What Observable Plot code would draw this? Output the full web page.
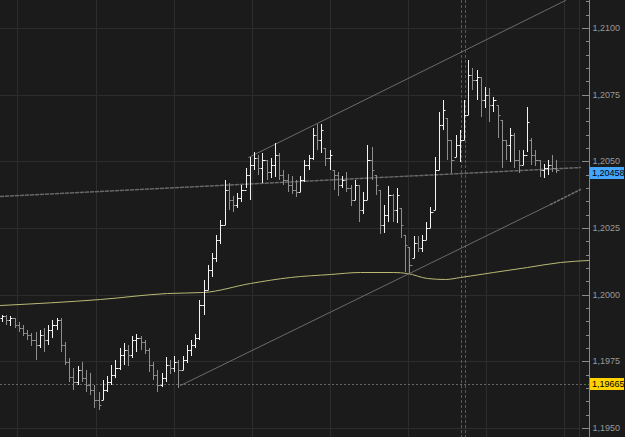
<!DOCTYPE html>
<html><head><meta charset="utf-8">
<script src="https://cdn.jsdelivr.net/npm/d3@7"></script>
<script src="https://cdn.jsdelivr.net/npm/@observablehq/plot@0.6"></script>
<style>
html,body{margin:0;padding:0;background:#1b1b1b;overflow:hidden;}
</style></head><body><div id="chart"></div>
<script>
// OHLC bars (bar index 0..132)
const open = [1.19913,1.19920,1.19905,1.19913,1.19886,1.19875,1.19856,1.19849,1.19830,1.19811,
1.19849,1.19830,1.19868,1.19886,1.19905,1.19811,1.19748,1.19691,1.19673,1.19718,
1.19688,1.19661,1.19643,1.19605,1.19605,1.19643,1.19673,1.19699,1.19725,1.19774,
1.19793,1.19774,1.19830,1.19838,1.19823,1.19793,1.19736,1.19699,1.19661,1.19688,
1.19736,1.19725,1.19748,1.19718,1.19755,1.19793,1.19811,1.19838,1.19961,1.20018,
1.20093,1.20138,1.20205,1.20261,1.20393,1.20355,1.20336,1.20363,1.20393,1.20449,
1.20486,1.20513,1.20475,1.20505,1.20460,1.20486,1.20524,1.20449,1.20430,1.20411,
1.20393,1.20385,1.20430,1.20486,1.20513,1.20599,1.20580,1.20550,1.20513,1.20468,
1.20449,1.20411,1.20430,1.20400,1.20355,1.20411,1.20318,1.20355,1.20505,1.20449,
1.20393,1.20261,1.20299,1.20374,1.20318,1.20325,1.20224,1.20179,1.20138,1.20194,
1.20175,1.20205,1.20250,1.20318,1.20468,1.20636,1.20663,1.20580,1.20516,1.20561,
1.20580,1.20674,1.20824,1.20805,1.20816,1.20730,1.20749,1.20711,1.20711,1.20655,
1.20580,1.20561,1.20599,1.20505,1.20486,1.20524,1.20580,1.20524,1.20505,1.20468,
1.20475,1.20486,1.20475];
const high = [1.19924,1.19924,1.19920,1.19913,1.19898,1.19886,1.19868,1.19856,1.19860,1.19868,
1.19875,1.19886,1.19905,1.19913,1.19913,1.19823,1.19763,1.19725,1.19733,1.19748,
1.19718,1.19706,1.19661,1.19635,1.19680,1.19695,1.19736,1.19755,1.19800,1.19819,
1.19811,1.19845,1.19853,1.19845,1.19830,1.19800,1.19748,1.19718,1.19706,1.19766,
1.19755,1.19770,1.19755,1.19770,1.19811,1.19830,1.19853,1.19980,1.20055,1.20111,
1.20156,1.20224,1.20280,1.20430,1.20419,1.20370,1.20381,1.20411,1.20475,1.20516,
1.20535,1.20524,1.20531,1.20505,1.20513,1.20569,1.20531,1.20468,1.20453,1.20445,
1.20430,1.20445,1.20505,1.20524,1.20625,1.20640,1.20640,1.20550,1.20543,1.20468,
1.20460,1.20445,1.20460,1.20411,1.20430,1.20411,1.20385,1.20561,1.20554,1.20449,
1.20393,1.20336,1.20408,1.20378,1.20400,1.20325,1.20224,1.20179,1.20220,1.20220,
1.20224,1.20273,1.20329,1.20516,1.20685,1.20730,1.20663,1.20580,1.20599,1.20618,
1.20730,1.20880,1.20850,1.20843,1.20816,1.20779,1.20775,1.20741,1.20711,1.20655,
1.20580,1.20625,1.20606,1.20543,1.20543,1.20704,1.20588,1.20543,1.20505,1.20490,
1.20505,1.20524,1.20505];
const low = [1.19898,1.19886,1.19883,1.19875,1.19860,1.19845,1.19830,1.19808,1.19755,1.19800,
1.19785,1.19811,1.19838,1.19868,1.19785,1.19736,1.19673,1.19643,1.19661,1.19673,
1.19635,1.19624,1.19575,1.19568,1.19605,1.19635,1.19661,1.19688,1.19718,1.19736,
1.19733,1.19763,1.19785,1.19793,1.19778,1.19710,1.19680,1.19635,1.19654,1.19673,
1.19703,1.19710,1.19650,1.19718,1.19744,1.19770,1.19800,1.19830,1.19924,1.20018,
1.20066,1.20123,1.20190,1.20261,1.20318,1.20310,1.20325,1.20348,1.20400,1.20355,
1.20468,1.20449,1.20419,1.20430,1.20438,1.20441,1.20430,1.20411,1.20385,1.20378,
1.20366,1.20385,1.20423,1.20468,1.20505,1.20543,1.20531,1.20483,1.20468,1.20393,
1.20370,1.20400,1.20385,1.20333,1.20355,1.20273,1.20303,1.20355,1.20430,1.20374,
1.20228,1.20231,1.20273,1.20273,1.20269,1.20213,1.20085,1.20081,1.20138,1.20160,
1.20160,1.20205,1.20250,1.20318,1.20468,1.20618,1.20505,1.20456,1.20516,1.20498,
1.20580,1.20674,1.20768,1.20730,1.20666,1.20700,1.20648,1.20685,1.20588,1.20475,
1.20505,1.20498,1.20475,1.20456,1.20486,1.20535,1.20486,1.20483,1.20441,1.20438,
1.20449,1.20460,1.20456];
const close = [1.19920,1.19905,1.19913,1.19886,1.19875,1.19856,1.19849,1.19830,1.19811,1.19849,
1.19830,1.19868,1.19886,1.19905,1.19811,1.19748,1.19691,1.19673,1.19718,1.19688,
1.19661,1.19643,1.19605,1.19586,1.19643,1.19673,1.19699,1.19725,1.19774,1.19793,
1.19774,1.19830,1.19838,1.19823,1.19793,1.19736,1.19699,1.19661,1.19688,1.19736,
1.19725,1.19748,1.19718,1.19755,1.19793,1.19811,1.19838,1.19961,1.20018,1.20093,
1.20138,1.20205,1.20261,1.20393,1.20355,1.20336,1.20363,1.20393,1.20449,1.20486,
1.20513,1.20475,1.20505,1.20460,1.20486,1.20524,1.20449,1.20430,1.20411,1.20393,
1.20385,1.20430,1.20486,1.20513,1.20599,1.20580,1.20618,1.20513,1.20524,1.20449,
1.20411,1.20430,1.20400,1.20355,1.20411,1.20318,1.20355,1.20505,1.20468,1.20411,
1.20261,1.20299,1.20374,1.20318,1.20374,1.20261,1.20186,1.20111,1.20194,1.20175,
1.20205,1.20250,1.20310,1.20468,1.20636,1.20693,1.20580,1.20505,1.20561,1.20580,
1.20674,1.20824,1.20805,1.20816,1.20730,1.20749,1.20711,1.20730,1.20674,1.20580,
1.20561,1.20599,1.20505,1.20486,1.20524,1.20648,1.20524,1.20505,1.20468,1.20475,
1.20486,1.20475,1.20468];

// moving average (bar index, value)
const maIndex = [-0.5, 23.3, 39.3, 47.9, 59, 68.6, 78.1, 85.2, 93.1, 96.4, 101.2, 105.5, 109, 116.9, 125, 132.9, 139.5];
const maValue = [1.19961, 1.19984, 1.20006, 1.20010, 1.20044, 1.20066, 1.20078, 1.20085, 1.20085, 1.20081, 1.20063, 1.20059, 1.20066, 1.20085, 1.20104, 1.20123, 1.20130];

// drawn lines (bar index, value)
const upperIdx = [58.6, 134.1], upperVal = [1.20516, 1.21105];
const lowerIdx = [42.4, 130.5], lowerVal = [1.19661, 1.20341];
const lowerExtIdx = [130.5, 137.6], lowerExtVal = [1.20341, 1.20396];
const slantIdx = [-0.5, 137.6], slantVal = [1.20370, 1.20479];
const levelLines = [1.19665];
const markerIdx = [109.3, 110.2];

// axis
const yMajor = [1.1950, 1.1975, 1.2000, 1.2025, 1.2050, 1.2075, 1.2100];
const yMinor = d3.range(1.1945, 1.2110, 0.0005).map(v => +v.toFixed(4));
const gridIdx = [3.6, 22.4, 41.0, 59.5, 78.1, 96.7, 115.2, 133.8];
const frameIdx = 137.4;
const xDomain = [-0.476, 139.76];
const yDomain = [1.194663, 1.21105];
const priceLabels = [{value: 1.20458, text: "1,20458", bg: "#45a6ff"}, {value: 1.19665, text: "1,19665", bg: "#ffd200"}];

const bars = open.map((o, i) => ({i, open: o, high: high[i], low: low[i], close: close[i]}));
const barColor = d => d.close >= d.open ? "#f4f4f4" : "#8e8e8e";
const pts = (xs, ys) => xs.map((x, k) => ({x, y: ys[k]}));
const fmt = d => d.toFixed(4).replace(".", ",");

const chart = Plot.plot({
  width: 625, height: 437,
  marginLeft: 0, marginRight: 36, marginTop: 0, marginBottom: 0,
  style: {background: "#1b1b1b", color: "#9a9a9a", fontFamily: "'Liberation Sans', Arial, sans-serif", fontSize: "9px"},
  x: {domain: xDomain, axis: null, round: true},
  y: {domain: yDomain, axis: null, round: true},
  marks: [
    Plot.ruleX(gridIdx, {stroke: "#2d2d2d"}),
    Plot.ruleY(yMajor, {x1: xDomain[0], x2: frameIdx, stroke: "#2d2d2d"}),
    Plot.ruleX([frameIdx], {stroke: "#2d2d2d"}),
    Plot.ruleX(markerIdx, {stroke: "#5a5a5a", strokeDasharray: "3,2"}),
    Plot.ruleY(levelLines, {x1: xDomain[0], x2: xDomain[1], stroke: "#666", strokeDasharray: "2,2"}),
    Plot.line(pts(slantIdx, slantVal), {x: "x", y: "y", stroke: "#686868", strokeDasharray: "3,2"}),
    Plot.line(pts(maIndex, maValue), {x: "x", y: "y", stroke: "#b9b976", strokeWidth: 1, curve: "monotone-x"}),
    Plot.line(pts(upperIdx, upperVal), {x: "x", y: "y", stroke: "#747474", strokeWidth: 0.9, clip: true}),
    Plot.line(pts(lowerIdx, lowerVal), {x: "x", y: "y", stroke: "#747474", strokeWidth: 0.9}),
    Plot.line(pts(lowerExtIdx, lowerExtVal), {x: "x", y: "y", stroke: "#747474", strokeDasharray: "2,2"}),
    Plot.ruleX(bars, {x: "i", y1: "low", y2: "high", stroke: barColor}),
    Plot.link(bars, {x1: d => d.i - 0.5, x2: "i", y1: "open", y2: "open", stroke: barColor}),
    Plot.link(bars, {x1: "i", x2: d => d.i + 0.5, y1: "close", y2: "close", stroke: barColor}),
    Plot.ruleX([xDomain[1]], {stroke: "#8a8a8a"}),
    Plot.axisY(yMinor, {anchor: "right", tickSize: 4, dx: -4, tickFormat: () => "", stroke: "#8a8a8a"}),
    Plot.axisY(yMajor, {anchor: "right", tickSize: 8, dx: -8, tickFormat: () => "", stroke: "#8a8a8a"}),
    Plot.axisY(yMajor, {anchor: "right", tickSize: 0, tickPadding: 3, tickFormat: fmt, fill: "#9a9a9a"})
  ]
});
document.getElementById("chart").append(chart);

// price tags on the right axis
const ys = chart.scale("y"), xs = chart.scale("x");
const svg = d3.select(chart);
const x0 = Math.round(xs.apply(xDomain[1]));
for (const p of priceLabels) {
  const yy = Math.round(ys.apply(p.value));
  svg.append("rect").attr("x", x0 + 1).attr("y", yy - 6).attr("width", 625 - x0 - 2).attr("height", 12).attr("fill", p.bg);
  svg.append("text").attr("x", x0 + 3).attr("y", yy).attr("dy", "0.35em").attr("fill", "#000")
    .attr("text-anchor", "start")
    .attr("font-size", 9).attr("font-family", "'Liberation Sans', Arial, sans-serif").text(p.text);
}
</script>
</body></html>
